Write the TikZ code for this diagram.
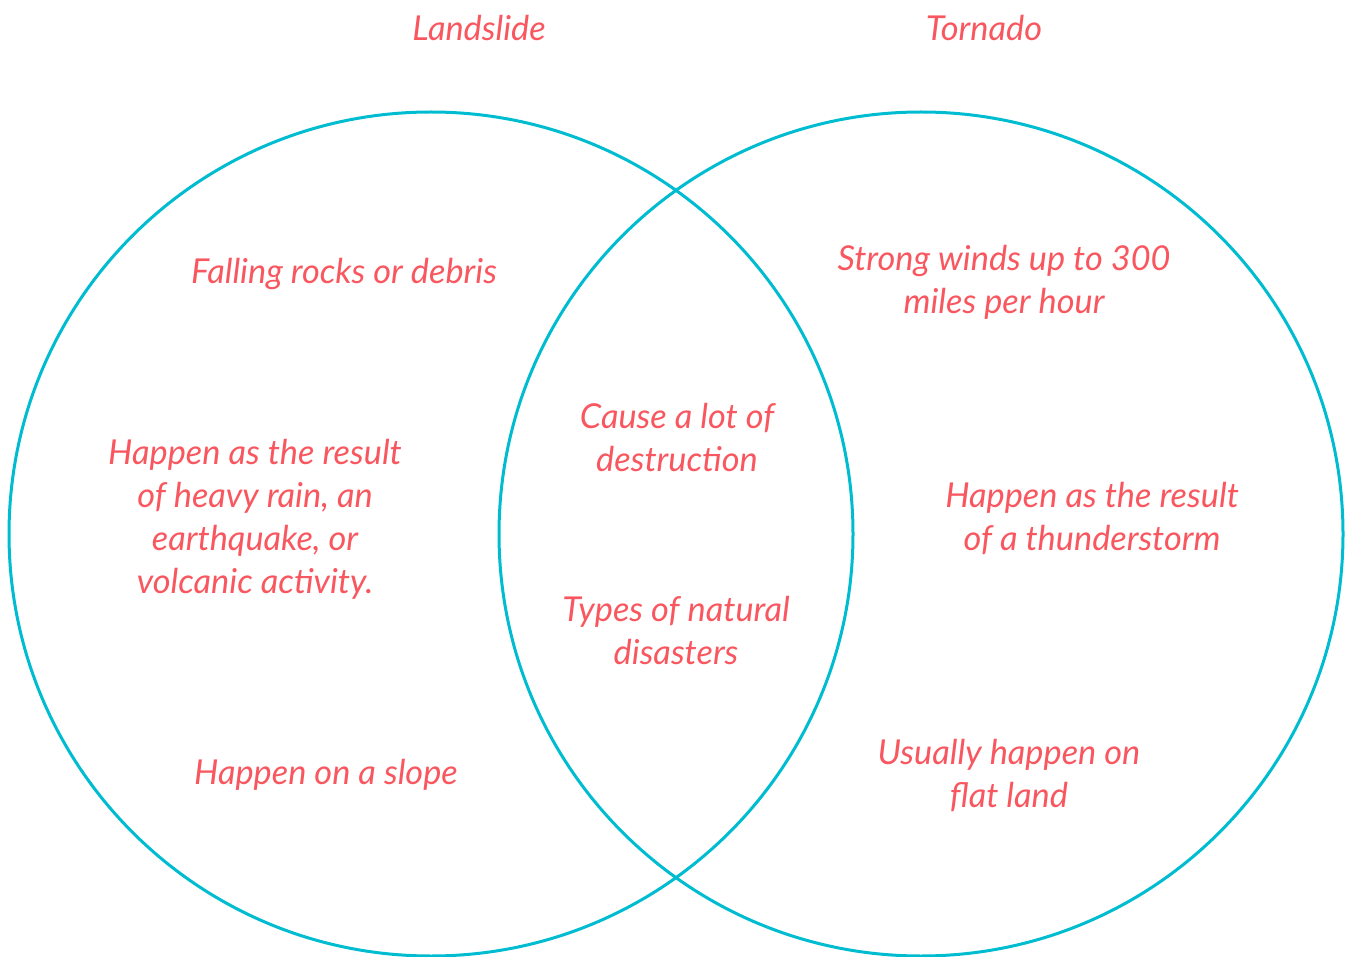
\documentclass[tikz,border=0pt]{standalone}
\usepackage{fontspec}
\setmainfont{Lato}
\definecolor{txtred}{HTML}{F9575F}
\definecolor{ringcyan}{HTML}{00BCD0}
\begin{document}
\begin{tikzpicture}[x=1pt,y=-1pt,
  lbl/.style={text=txtred,font=\fontsize{34.3}{43}\selectfont\itshape,align=center,inner sep=0pt},
  ring/.style={draw=ringcyan,line width=3pt}]
\useasboundingbox (0,0) rectangle (1349,957);
\node[ring,circle,minimum size=844pt,inner sep=0pt] (L) at (431,534) {};
\node[ring,circle,minimum size=844pt,inner sep=0pt] (R) at (921,534) {};
\node[lbl] (t1) at (479,28) {Landslide};
\node[lbl] (t2) at (984,28) {Tornado};
\node[lbl] (a1) at (344,274) {Falling rocks or debris};
\node[lbl] (a2) at (255,519) {Happen as the result\\of heavy rain, an\\earthquake, or\\volcanic activity.};
\node[lbl] (a3) at (326,775) {Happen on a slope};
\node[lbl] (c1) at (677,438) {Cause a lot of\\destruction};
\node[lbl] (c2) at (676,631) {Types of natural\\disasters};
\node[lbl] (b1) at (1004,282) {Strong winds up to 300\\miles per hour};
\node[lbl] (b2) at (1092,519) {Happen as the result\\of a thunderstorm};
\node[lbl] (b3) at (1009,776) {Usually happen on\\flat land};
\end{tikzpicture}
\end{document}
